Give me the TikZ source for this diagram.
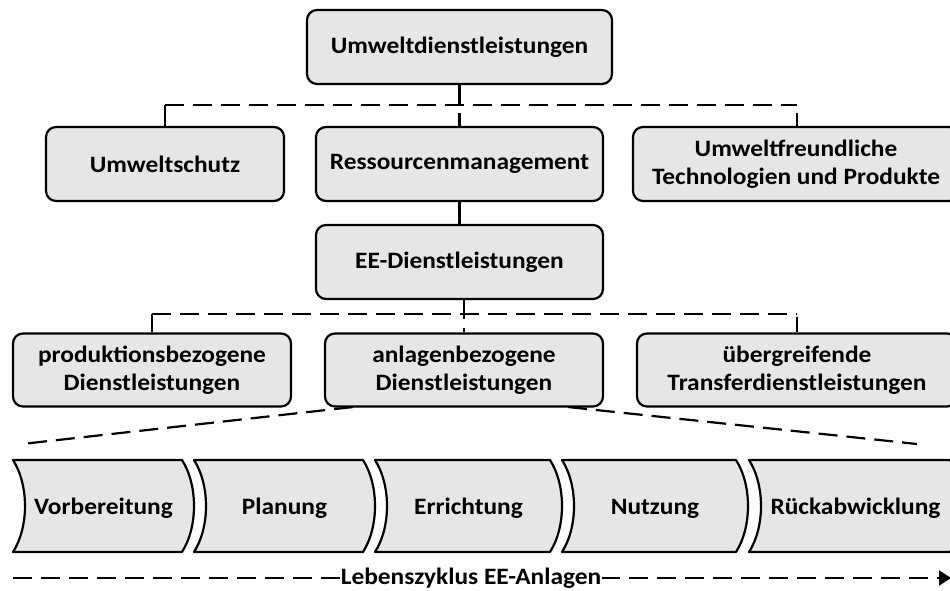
\documentclass[tikz,border=0pt]{standalone}
\usepackage{fontspec}
\setmainfont{Carlito}[FakeStretch=1.08]
\usetikzlibrary{arrows.meta}

\definecolor{boxfill}{HTML}{E6E6E6}

\tikzset{
  txt/.style={font=\bfseries\fontsize{23.5}{28}\selectfont, align=center, text=black},
  box/.style={txt, draw=black, fill=boxfill, line width=2.2pt, rounded corners=10pt,
              inner sep=0pt},
  chev/.style={draw=black, fill=boxfill, line width=2.2pt, line join=round},
  dashline/.style={line width=2.2pt, dash pattern=on 19pt off 9pt},
  solidline/.style={line width=2.2pt},
}

\begin{document}
\begin{tikzpicture}[x=1pt, y=-1pt]
  \useasboundingbox (0,0) rectangle (950,590);
  \clip (0,0) rectangle (950,590);

  % hierarchy boxes
  \node[box, minimum width=305pt, minimum height=74pt] (top) at (459.5,47) {Umweltdienstleistungen};
  \node[box, minimum width=238pt, minimum height=74pt] (schutz) at (165,164) {Umweltschutz};
  \node[box, minimum width=287pt, minimum height=74pt] (ress) at (459.5,164) {Ressourcenmanagement};
  \node[box, minimum width=326pt, minimum height=74pt] (tech) at (796,164) {Umweltfreundliche\\Technologien und Produkte};
  \node[box, minimum width=287pt, minimum height=74pt] (ee) at (459.5,262) {EE-Dienstleistungen};
  \node[box, minimum width=278pt, minimum height=73pt] (prod) at (152,370) {produktionsbezogene\\Dienstleistungen};
  \node[box, minimum width=278pt, minimum height=73pt] (anl) at (464,370) {anlagenbezogene\\Dienstleistungen};
  \node[box, minimum width=320pt, minimum height=73pt] (trans) at (797,370) {übergreifende\\Transferdienstleistungen};

  % first branching level
  \coordinate (b1l) at (165,105);
  \coordinate (b1r) at (797,105);
  \coordinate (b1s) at (797,113);
  \draw[dashline] (top.south) -- (ress.north);
  \draw[dashline] (b1l) -- (b1r);
  \draw[solidline] (b1l) -- (schutz.north);
  \draw[solidline] (b1s) -- (b1s |- tech.north);
  \draw[solidline] (ress.south) -- (ee.north);

  % second branching level
  \coordinate (b2l) at (152,314);
  \coordinate (b2r) at (797,314);
  \coordinate (b2s) at (797,317);
  \draw[dashline] (anl.north |- ee.south) -- (anl.north);
  \draw[dashline] (b2l) -- (b2r);
  \draw[solidline] (b2l) -- (prod.north);
  \draw[solidline] (b2s) -- (b2s |- trans.north);

  % fan-out towards the life cycle
  \coordinate (fanl) at (22,444);
  \coordinate (fanr) at (917,444);
  \draw[dashline] (353,407) -- (fanl);
  \draw[dashline] (568,407) -- (fanr);

  % life-cycle phases
  \foreach \L/\R/\t/\n in {13/182/Vorbereitung/ph1, 194/363/Planung/ph2,
      375/550/Errichtung/ph3, 562/736/Nutzung/ph4, 749/950/Rückabwicklung/ph5} {
    \filldraw[chev] (\L,460) .. controls (\L+16,485) and (\L+16,527) .. (\L,552)
      -- (\R,552) .. controls (\R+16,527) and (\R+16,485) .. (\R,460) -- cycle;
    \node[txt, anchor=base] (\n) at ({(\L+\R)/2+6},514) {\t};
  }

  % life-cycle arrow
  \coordinate (lcs) at (13,578);
  \coordinate (lce) at (951,578);
  \draw[dashline, -{Triangle[length=12pt,width=15pt]}] (lcs) -- (lce);
  \node[txt, fill=white, inner xsep=1pt, inner ysep=2pt] (lc) at (471,578) {Lebenszyklus EE-Anlagen};
\end{tikzpicture}
\end{document}
